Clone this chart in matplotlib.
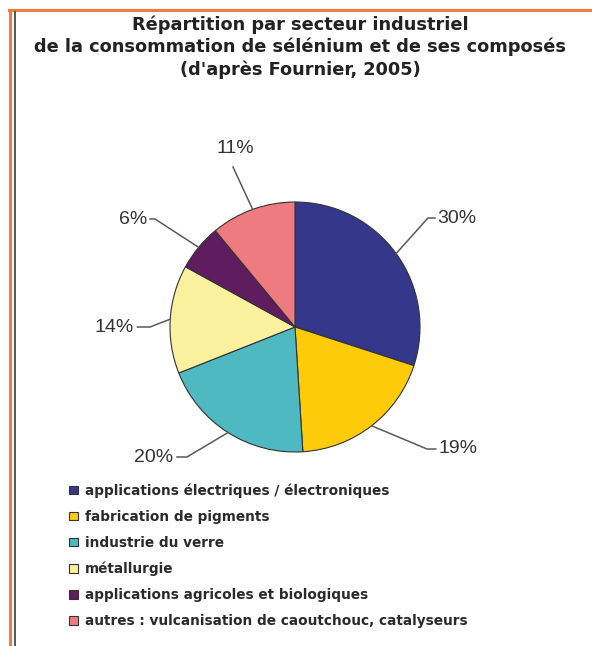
import numpy as np
import matplotlib
matplotlib.use("Agg")
import matplotlib.pyplot as plt
from matplotlib.lines import Line2D

TITLE = ("Répartition par secteur industriel\n"
         "de la consommation de sélénium et de ses composés\n"
         "(d'après Fournier, 2005)")

CATEGORIES = [
    "applications électriques / électroniques",
    "fabrication de pigments",
    "industrie du verre",
    "métallurgie",
    "applications agricoles et biologiques",
    "autres : vulcanisation de caoutchouc, catalyseurs",
]
SHARES = [30, 19, 20, 14, 6, 11]
COLORS = ["#35378A", "#FDCB0A", "#4FB9C1", "#FAF09E", "#5F1C5E", "#EE7B7F"]

# leader line: elbow point, horizontal tail length, text offset, side
LABEL_POS = [(1.064, 0.872, 0.056, 0.072, "left"),
             (1.056, -0.976, 0.07, 0.088, "left"),
             (-0.864, -1.04, -0.08, -0.112, "right"),
             (-1.16, 0.0, -0.1, -0.13, "right"),
             (-1.12, 0.864, -0.04, -0.064, "right"),
             (-0.496, 1.28, 0.0, 0.08, "top")]

W, H = 592, 646
fig = plt.figure(figsize=(W / 100, H / 100), dpi=100)

# page frame
fig.add_artist(Line2D([9 / W, 1], [1 - 10 / H, 1 - 10 / H], color="#F47A45", lw=2.2))
fig.add_artist(Line2D([10 / W, 10 / W], [0, 1 - 10 / H], color="#F47A45", lw=2.2))
fig.add_artist(Line2D([15 / W, 15 / W], [0, 1 - 12 / H], color="#555555", lw=1.4))

fig.text(300 / W, 1 - 15 / H, TITLE, ha="center", va="top", fontsize=12.8,
         fontweight="bold", color="#222222", linespacing=1.3, family="DejaVu Sans")

# pie axes: center at (295, 327) px, radius 125 px
R = 125
x0, x1, y0, y1 = 100, 490, 130, 480
ax = fig.add_axes([x0 / W, 1 - y1 / H, (x1 - x0) / W, (y1 - y0) / H])

wedges, _ = ax.pie(SHARES, colors=COLORS, startangle=90, counterclock=False,
                   radius=1.0, wedgeprops=dict(edgecolor="#333333", linewidth=0.8))
ax.set_xlim((x0 - 295) / R, (x1 - 295) / R)
ax.set_ylim((327 - y1) / R, (327 - y0) / R)
ax.set_aspect("equal")
ax.axis("off")

for w, share, (ex, ey, tail, gap, side) in zip(wedges, SHARES, LABEL_POS):
    mid = np.deg2rad((w.theta1 + w.theta2) / 2)
    sx, sy = np.cos(mid), np.sin(mid)
    txt = f"{share}%"
    if side == "top":
        ax.plot([sx, ex], [sy, ey], color="#5a5a5a", lw=1.1)
        ax.text(ex + 0.016, ey + gap, txt, ha="center", va="bottom", fontsize=14,
                color="#333333", family="Liberation Sans")
    else:
        ax.plot([sx, ex, ex + tail], [sy, ey, ey], color="#5a5a5a", lw=1.1)
        ax.text(ex + gap, ey, txt, ha=side, va="center", fontsize=14,
                color="#333333", family="Liberation Sans")

leg = fig.legend(wedges, CATEGORIES, loc="upper left",
                 bbox_to_anchor=(64 / W, 1 - 478 / H), frameon=False,
                 handlelength=0.6, handleheight=0.6,
                 handletextpad=0.55, labelspacing=0.88, borderaxespad=0,
                 prop=dict(family="DejaVu Sans", size=9.8, weight="bold"))
for t in leg.get_texts():
    t.set_color("#2a2a2a")

fig.savefig("out.png", dpi=100)
